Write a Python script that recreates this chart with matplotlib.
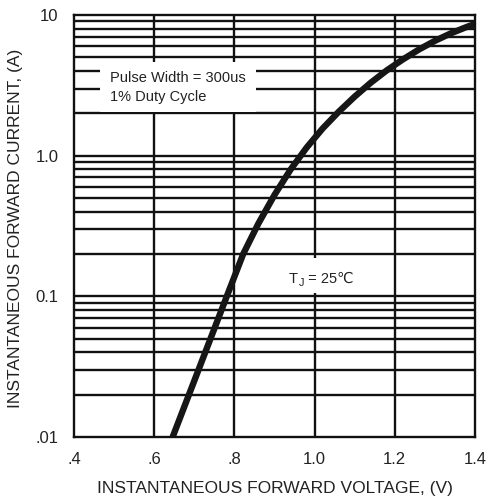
import matplotlib
matplotlib.use("Agg")
import matplotlib.pyplot as plt
from matplotlib.patches import Rectangle
from matplotlib.transforms import offset_copy
from matplotlib.ticker import FixedLocator, NullLocator

# ---- data ----
voltage = [0.646, 0.700, 0.750, 0.781, 0.822, 0.860, 0.900, 0.940, 0.980,
           1.020, 1.060, 1.100, 1.140, 1.180, 1.220, 1.260, 1.300, 1.340, 1.380, 1.400]
current = [0.010, 0.0251, 0.0589, 0.100, 0.200, 0.330, 0.526, 0.796, 1.14,
           1.56, 2.05, 2.63, 3.30, 4.04, 4.83, 5.68, 6.55, 7.41, 8.24, 8.63]

x_ticks = [0.4, 0.6, 0.8, 1.0, 1.2, 1.4]
x_tick_labels = [".4", ".6", ".8", "1.0", "1.2", "1.4"]
y_ticks = [0.01, 0.1, 1.0, 10]
y_tick_labels = [".01", "0.1", "1.0", "10"]
x_label = "INSTANTANEOUS FORWARD VOLTAGE, (V)"
y_label = "INSTANTANEOUS FORWARD CURRENT, (A)"
note_text = "Pulse Width = 300us\n1% Duty Cycle"
temp_main, temp_sub, temp_rest = "T", "J", " = 25℃"

# ---- fonts ----
fam = ["Liberation Sans", "DejaVu Sans"]
plt.rcParams["font.family"] = fam
fs_tick = 12
fs_label = 12.5
fs_note = 10.5
txt_col = "#222222"

W, H = 491, 500
fig = plt.figure(figsize=(W / 100, H / 100), dpi=100)
L, R, T, B = 74, 475, 15, 437
ax = fig.add_axes([L / W, 1 - B / H, (R - L) / W, (B - T) / H])


def fx(px):
    return px / W


def fy(py):
    return 1 - py / H


ax.set_yscale("log")
ax.set_xlim(0.4, 1.4)
ax.set_ylim(0.01, 10)

# grid lines
gl = 1.7
gcol = "#111111"
for xv in x_ticks[1:-1]:
    ax.axvline(xv, color=gcol, lw=gl, zorder=1)
for dec in [0.01, 0.1, 1.0]:
    for m in range(1, 10):
        yv = dec * m
        if 0.01 < yv < 10:
            ax.axhline(yv, color=gcol, lw=gl, zorder=1)

# curve
ax.plot(voltage, current, color="#161616", lw=4.6, solid_capstyle="butt",
        solid_joinstyle="round", zorder=4)

# white boxes behind the annotations
ax.add_patch(Rectangle((fx(100), fy(112)), fx(256) - fx(100), fy(62) - fy(112),
                       transform=fig.transFigure, fc="white", ec="none", zorder=2))
ax.add_patch(Rectangle((fx(284), fy(293)), fx(358) - fx(284), fy(258) - fy(293),
                       transform=fig.transFigure, fc="white", ec="none", zorder=2))

# pulse note
fig.text(fx(110), fy(78), note_text.split("\n")[0], ha="left", va="center",
         fontsize=fs_note, color=txt_col, zorder=6)
fig.text(fx(110), fy(97), note_text.split("\n")[1], ha="left", va="center",
         fontsize=fs_note, color=txt_col, zorder=6)

# T_J = 25 C label built from pieces
renderer = fig.canvas.get_renderer()
bx, by = fx(289), fy(283)
t1 = fig.text(bx, by, temp_main, ha="left", va="baseline", fontsize=fs_note,
              color=txt_col, zorder=6)
w1 = t1.get_window_extent(renderer).width
t2 = fig.text(bx, by, temp_sub, ha="left", va="baseline", fontsize=fs_note * 0.75,
              color=txt_col, zorder=6,
              transform=offset_copy(fig.transFigure, fig, x=w1 + 0.5, y=-3, units="dots"))
w2 = t2.get_window_extent(renderer).width
fig.text(bx, by, temp_rest, ha="left", va="baseline", fontsize=fs_note,
         color=txt_col, zorder=6,
         transform=offset_copy(fig.transFigure, fig, x=w1 + w2 + 0.5, y=0, units="dots"))

# ticks
ax.xaxis.set_major_locator(FixedLocator(x_ticks))
ax.set_xticklabels(x_tick_labels)
ax.yaxis.set_major_locator(FixedLocator(y_ticks))
ax.yaxis.set_minor_locator(NullLocator())
ax.set_yticklabels(y_tick_labels)
ax.tick_params(axis="both", length=0, labelsize=fs_tick, colors=txt_col)
ax.tick_params(axis="x", pad=11)
ax.tick_params(axis="y", pad=11)

for side, sp in ax.spines.items():
    sp.set_linewidth(1.7)
    sp.set_color(gcol)
    sp.set_zorder(5)

fig.text(fx((92 + 458) / 2), fy(488), x_label, ha="center", va="center",
         fontsize=fs_label, color=txt_col)
fig.text(fx(16), fy(228), y_label, ha="center", va="center",
         rotation=90, fontsize=fs_label, color=txt_col)

fig.savefig("out.png", dpi=100, facecolor="white")
